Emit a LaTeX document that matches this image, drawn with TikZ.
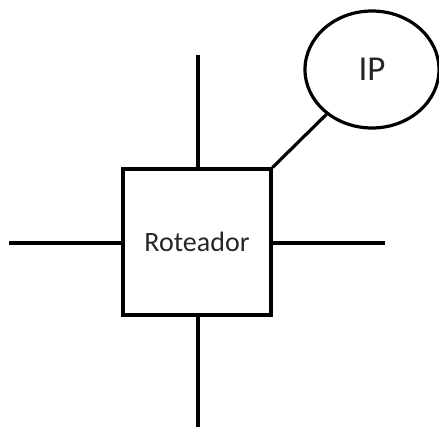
\documentclass[tikz,border=0pt]{standalone}
\usepackage{fontspec}
\setmainfont{Carlito}
\usetikzlibrary{shapes.geometric}
\begin{document}
\begin{tikzpicture}[x=1pt,y=-1pt,
  wire/.style={line width=3.2pt, black},
  box/.style={draw, line width=3.2pt, rectangle, minimum width=148pt, minimum height=146pt, inner sep=0pt, font=\fontsize{28}{30}\selectfont, text=black!85},
  oval/.style={draw, line width=3.2pt, ellipse, minimum width=134pt, minimum height=117pt, inner sep=0pt, font=\fontsize{35}{38}\selectfont, text=black!85}]
\useasboundingbox (0,0) rectangle (439,427);
\node[box] (r) at (197,242) {\raisebox{-3pt}{Roteador}};
\node[oval] (ip) at (372,69.5) {\raisebox{-5pt}{IP}};
\coordinate (t) at (198,55);
\coordinate (b) at (198,430);
\coordinate (l) at (9,243);
\coordinate (rt) at (385,243);
\draw[wire] (t) -- (t |- r.north);
\draw[wire] (b) -- (b |- r.south);
\draw[wire] (l) -- (l -| r.west);
\draw[wire] (rt) -- (rt -| r.east);
\draw[wire] (r.north east) -- (ip);
\end{tikzpicture}
\end{document}
